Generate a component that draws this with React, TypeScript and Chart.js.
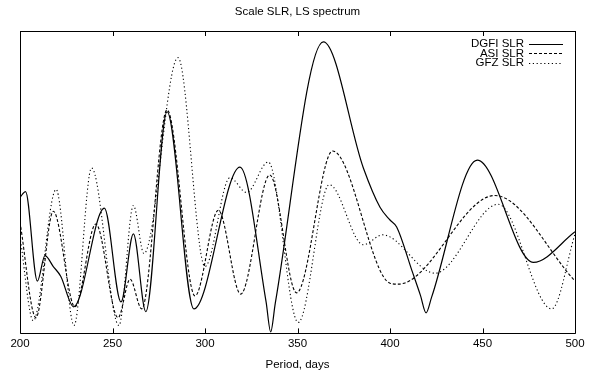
import React, { useEffect, useRef } from "react";
import { Chart, registerables } from "chart.js";

Chart.register(...registerables);

const title = "Scale SLR, LS spectrum";
const xTitle = "Period, days";
const xTicks = [200, 250, 300, 350, 400, 450, 500];

const seriesNames = ["DGFI SLR", "ASI SLR", "GFZ SLR"];

const dgfiPeriods = [200, 203, 209.4, 213.5, 218, 222, 229, 245.6, 254.6, 261.3, 268, 279.5, 294, 318.9, 333, 335.5, 338, 364, 385.6, 394.6, 400, 403.6, 412, 416.5, 419.5, 422.5, 447.2, 477.5, 500];
const dgfiValues = [45, 46.9, 17.3, 25.7, 22.1, 18.9, 8.8, 41.4, 10.4, 32.9, 7.2, 73.3, 8.1, 55, 10.5, 0.5, 10, 96.4, 54.7, 41.7, 37.5, 35.2, 20.5, 12.5, 6.8, 12, 57.3, 23.5, 33.6];

const asiPeriods = [200, 208.6, 218, 229.7, 241, 253, 259.5, 265.8, 279.5, 294.6, 307.2, 319.3, 335, 349.5, 369, 400, 404.5, 456.7, 500];
const asiValues = [36.8, 5.2, 40.4, 8.8, 36.2, 5.2, 17.9, 8.1, 73.9, 12.4, 40.7, 13, 52.4, 13.4, 60.3, 16.6, 16.3, 45.6, 17.3];

const gfzPeriods = [200, 207.2, 219.5, 229.2, 238.7, 253.5, 261.3, 267, 285.4, 300, 313.5, 322.5, 334.2, 350.4, 367.2, 385.6, 396, 424.3, 458.5, 487.4, 500];
const gfzValues = [31.9, 4.2, 47.6, 2.6, 54.7, 2.6, 42.3, 26.4, 91.2, 22.1, 51.5, 46.6, 56.7, 3.6, 49.2, 29.3, 32.6, 19.9, 42.7, 8.1, 32.9];

const FONT = "'Liberation Sans', Arial, Helvetica, sans-serif";

const toPoints = (xs: number[], ys: number[]) => xs.map((x, i) => ({ x, y: ys[i] }));

const framePlugin = {
  id: "frame",
  afterDraw(chart: any) {
    const { ctx, chartArea } = chart;
    const { left, right, top, bottom } = chartArea;
    const xs = chart.scales.x;
    ctx.save();
    ctx.strokeStyle = "#000";
    ctx.lineWidth = 1;
    ctx.setLineDash([]);
    ctx.beginPath();
    ctx.rect(Math.round(left) + 0.5, Math.round(top) + 0.5, Math.round(right - left), Math.round(bottom - top));
    ctx.stroke();
    // inward tick marks at top and bottom
    ctx.beginPath();
    xTicks.forEach((t) => {
      const px = Math.round(xs.getPixelForValue(t)) + 0.5;
      ctx.moveTo(px, bottom);
      ctx.lineTo(px, bottom - 5);
      ctx.moveTo(px, top);
      ctx.lineTo(px, top + 5);
    });
    ctx.stroke();
    // legend (gnuplot style: text right-aligned, sample on the right)
    ctx.font = `11.5px ${FONT}`;
    ctx.textAlign = "right";
    ctx.textBaseline = "middle";
    ctx.fillStyle = "#000";
    const sampleRight = right - 12;
    const sampleLeft = sampleRight - 34;
    chart.data.datasets.forEach((ds: any, i: number) => {
      const y = top + 13 + i * 9.4;
      ctx.fillText(ds.label, sampleLeft - 5, y);
      ctx.strokeStyle = ds.borderColor;
      ctx.lineWidth = ds.borderWidth;
      ctx.setLineDash(ds.borderDash || []);
      ctx.beginPath();
      ctx.moveTo(sampleLeft, Math.round(y) + 0.5);
      ctx.lineTo(sampleRight, Math.round(y) + 0.5);
      ctx.stroke();
    });
    ctx.restore();
  },
};

export default function App() {
  const ref = useRef<HTMLCanvasElement | null>(null);
  useEffect(() => {
    document.body.style.margin = "0";
    const canvas = ref.current;
    if (!canvas) return;
    const chart = new Chart(canvas, {
      type: "line",
      data: {
        datasets: [
          {
            label: seriesNames[0],
            data: toPoints(dgfiPeriods, dgfiValues),
            borderColor: "#000",
            borderWidth: 1.2,
            borderDash: [],
          },
          {
            label: seriesNames[1],
            data: toPoints(asiPeriods, asiValues),
            borderColor: "#000",
            borderWidth: 1.1,
            borderDash: [3, 2],
          },
          {
            label: seriesNames[2],
            data: toPoints(gfzPeriods, gfzValues),
            borderColor: "#000",
            borderWidth: 1.1,
            borderDash: [1.2, 2.6],
          },
        ],
      },
      options: {
        animation: false,
        responsive: false,
        maintainAspectRatio: false,
        devicePixelRatio: 1,
        elements: {
          point: { radius: 0, hoverRadius: 0 },
          line: { cubicInterpolationMode: "monotone", fill: false },
        },
        layout: { padding: { left: 20, right: 22, top: 0, bottom: 4 } },
        plugins: {
          legend: { display: false },
          tooltip: { enabled: false },
          title: {
            display: true,
            text: title,
            color: "#000",
            font: { family: FONT, size: 11.5, weight: "normal" },
            padding: { top: 5, bottom: 12.2 },
          },
        },
        scales: {
          x: {
            type: "linear",
            min: 200,
            max: 500,
            afterBuildTicks: (scale: any) => {
              scale.ticks = xTicks.map((v) => ({ value: v }));
            },
            grid: { display: false, drawTicks: false },
            border: { display: false },
            ticks: {
              color: "#000",
              padding: 4,
              font: { family: FONT, size: 11.5 },
              maxRotation: 0,
              autoSkip: false,
            },
            title: {
              display: true,
              text: xTitle,
              color: "#000",
              font: { family: FONT, size: 11.5 },
              padding: { top: 3, bottom: 0 },
            },
          },
          y: {
            type: "linear",
            display: false,
            min: 0,
            max: 100,
          },
        },
      },
      plugins: [framePlugin],
    });
    return () => chart.destroy();
  }, []);
  return (
    <div style={{ width: 597, height: 376 }}>
      <canvas ref={ref} width={597} height={376} style={{ display: "block", width: 597, height: 376 }} />
    </div>
  );
}
